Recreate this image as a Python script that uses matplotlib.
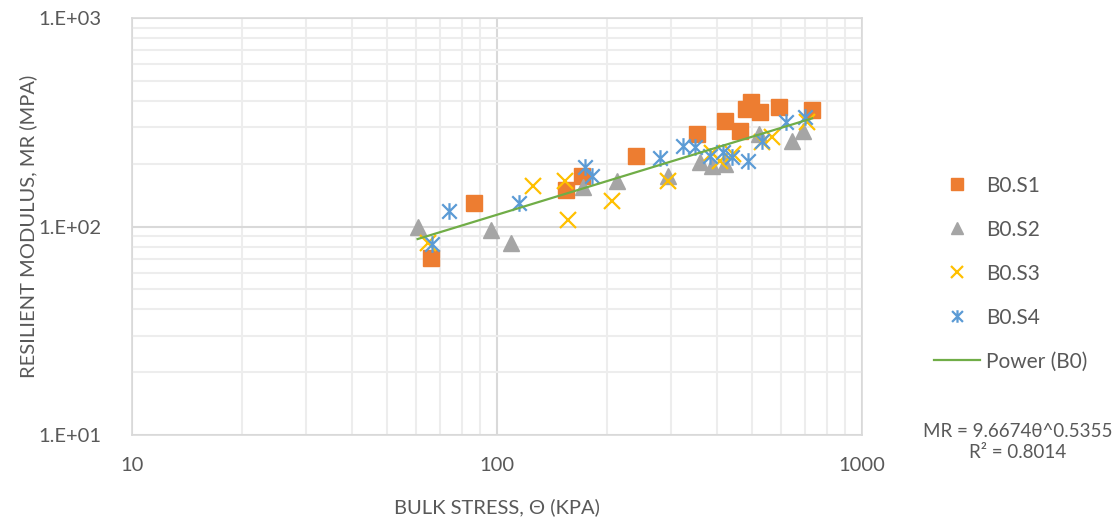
import numpy as np
import matplotlib
matplotlib.use("Agg")
import matplotlib.pyplot as plt
from matplotlib.path import Path
from matplotlib.lines import Line2D
from matplotlib.ticker import FixedLocator, LogLocator, NullFormatter

# Bulk stress (kPa) and resilient modulus (MPa) for each specimen
s1_theta = [65.9, 86.5, 154.5, 171, 240, 353, 421, 463, 481, 497, 525, 592, 730]
s1_mr = [71.0, 129, 149, 174, 219, 277, 320, 286, 365, 395, 353, 373, 361]

s2_theta = [60.6, 96.3, 109, 172, 213, 294, 360, 388, 421, 522, 643, 689]
s2_mr = [99, 95.7, 83.8, 154, 164.5, 174, 203, 194, 199, 277, 256, 286]

s3_theta = [64.7, 125.5, 153.5, 156.5, 206.5, 294, 388, 408, 443, 532, 566, 707]
s3_mr = [83.8, 156, 164.5, 107, 132, 166, 224, 205, 222, 253.6, 268, 316]

s4_theta = [66.3, 74, 114.7, 174, 182, 280, 324, 349, 383, 416, 440, 487, 532, 619, 698]
s4_mr = [82.8, 119, 130, 192, 174, 212, 243, 240, 217, 227, 215, 205, 256, 316, 334]

# Power trendline MR = a * theta^b
fit_a = 9.6674
fit_b = 0.5355
fit_r2 = 0.8014

series_labels = ["B0.S1", "B0.S2", "B0.S3", "B0.S4"]
trend_label = "Power (B0)"
x_ticks = [10, 100, 1000]
y_ticks = [10, 100, 1000]

TEXT = "#595959"
FONT = ["Lato", "DejaVu Sans"]
plt.rcParams["font.family"] = FONT

# Six-armed asterisk marker (X plus vertical bar)
star_path = Path(
    [(-1, -1), (1, 1), (-1, 1), (1, -1), (0, -1.15), (0, 1.15)],
    [Path.MOVETO, Path.LINETO, Path.MOVETO, Path.LINETO, Path.MOVETO, Path.LINETO],
)

fig = plt.figure(figsize=(11.19, 5.18), dpi=100)
ax = fig.add_axes([132 / 1119, 83 / 518, 730 / 1119, 417 / 518])

ax.set_xscale("log")
ax.set_yscale("log")
ax.set_xlim(10, 1000)
ax.set_ylim(10, 1000)

styles = [
    dict(marker="s", ms=12, color="#ED7D31", mec="#ED7D31", ls="none"),
    dict(marker="^", ms=12, color="#A5A5A5", mec="#A5A5A5", ls="none"),
    dict(marker="x", ms=12, color="#FFC000", mew=1.6, ls="none"),
    dict(marker=star_path, ms=12, color="#5B9BD5", mew=1.6, ls="none"),
]
data = [(s1_theta, s1_mr), (s2_theta, s2_mr), (s3_theta, s3_mr), (s4_theta, s4_mr)]

handles = []
for (xs, ys), st, lab in zip(data, styles, series_labels):
    ax.plot(xs, ys, zorder=3, clip_on=False, **st)
    hst = dict(st)
    hst["ms"] = 9
    handles.append(Line2D([], [], label=lab, **hst))

all_theta = np.concatenate([s1_theta, s2_theta, s3_theta, s4_theta])
tx = np.linspace(all_theta.min(), all_theta.max(), 200)
ax.plot(tx, fit_a * tx ** fit_b, color="#70AD47", lw=1.6, zorder=4)
handles.append(Line2D([], [], color="#70AD47", lw=1.6, label=trend_label))

# Grid and frame
ax.xaxis.set_major_locator(FixedLocator(x_ticks))
ax.yaxis.set_major_locator(FixedLocator(y_ticks))
ax.xaxis.set_minor_locator(LogLocator(base=10, subs=np.arange(2, 10)))
ax.yaxis.set_minor_locator(LogLocator(base=10, subs=np.arange(2, 10)))
ax.xaxis.set_minor_formatter(NullFormatter())
ax.yaxis.set_minor_formatter(NullFormatter())
ax.set_xticklabels([str(v) for v in x_ticks])
ax.set_yticklabels(["1.E+01", "1.E+02", "1.E+03"])
ax.grid(True, which="major", color="#D9D9D9", lw=1.5)
ax.grid(True, which="minor", color="#EDEDED", lw=1.5)
ax.set_axisbelow(True)
for sp in ax.spines.values():
    sp.set_color("#D9D9D9")
    sp.set_linewidth(1.2)
ax.tick_params(which="both", length=0, colors=TEXT, labelsize=14.5)
ax.tick_params(axis="x", pad=16)
ax.tick_params(axis="y", pad=22)

ax.set_xlabel("BULK STRESS, Θ (KPA)", fontsize=14.5, color=TEXT, labelpad=17)
ax.set_ylabel("RESILIENT MODULUS, MR (MPA)", fontsize=14.5, color=TEXT, labelpad=1)

leg = fig.legend(
    handles=handles,
    loc="upper left",
    bbox_to_anchor=(915 / 1119, 1 - 157 / 518),
    frameon=False,
    fontsize=15,
    labelspacing=1.15,
    handlelength=2.2,
    handletextpad=0.3,
)
for t in leg.get_texts():
    t.set_color(TEXT)

fig.text(1018 / 1119, 1 - 442 / 518,
         f"MR = {fit_a}θ^{fit_b}\nR² = {fit_r2}",
         ha="center", va="center", fontsize=13.5, color=TEXT, linespacing=1.25)

fig.savefig("out.png", dpi=100)
